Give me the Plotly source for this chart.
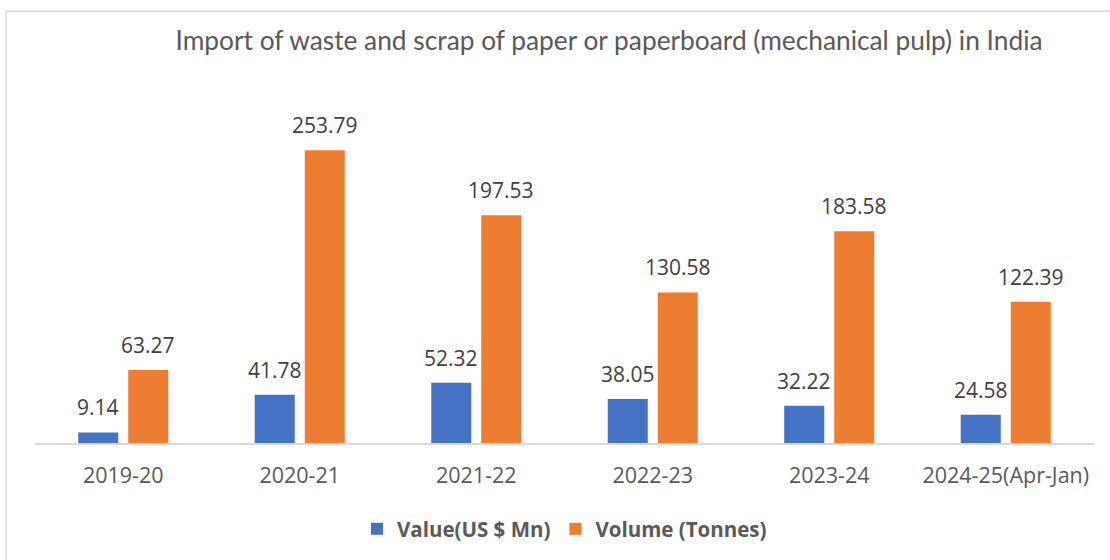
import plotly.graph_objects as go

years = ["2019-20", "2020-21", "2021-22", "2022-23", "2023-24", "2024-25(Apr-Jan)"]
value_usd_mn = [9.14, 41.78, 52.32, 38.05, 32.22, 24.58]
volume_tonnes = [63.27, 253.79, 197.53, 130.58, 183.58, 122.39]

title_text = "Import of waste and scrap of paper or paperboard (mechanical pulp) in India"
blue = "#4472C4"
orange = "#ED7D31"
label_font = dict(family="Open Sans", size=21, color="#404040")

fig = go.Figure()
fig.add_trace(go.Bar(
    x=years, y=value_usd_mn, name="Value(US $ Mn)",
    marker=dict(color=blue, line=dict(width=0)),
))
fig.add_trace(go.Bar(
    x=years, y=volume_tonnes, name="Volume (Tonnes)",
    marker=dict(color=orange, line=dict(width=0)),
))

L, R, T, B = 35, 16, 97, 116
W, H = 1110, 560
pw, ph = W - L - R, H - T - B
BARGAP = 0.433
slot = pw / len(years) * (1 - BARGAP) / 2  # pixel width of one bar slot within a group

# value labels above each bar
for series, shift in ((value_usd_mn, -slot / 2), (volume_tonnes, slot / 2)):
    for yr, v in zip(years, series):
        fig.add_annotation(x=yr, y=v, xref="x", yref="y", text=f"{v:.2f}",
                           showarrow=False, xshift=shift, yshift=25,
                           yanchor="middle", xanchor="center", font=label_font)

fig.update_layout(
    width=W, height=H,
    margin=dict(l=L, r=R, t=T, b=B),
    paper_bgcolor="white", plot_bgcolor="white",
    barmode="group", bargap=BARGAP, bargroupgap=0.2,
    title=dict(text=title_text, x=(609 - L) / pw, xref="paper", xanchor="center",
               y=1 - 41 / H, yanchor="middle",
               font=dict(family="Lato", size=26.3, color="#595959")),
    xaxis=dict(showgrid=False, showline=True, linecolor="#d9d9d9", linewidth=1.5,
               ticks="", ticklabelstandoff=12,
               tickfont=dict(family="Open Sans", size=21.5, color="#595959")),
    yaxis=dict(range=[0, 300], visible=False),
    legend=dict(orientation="h", x=0.5, xanchor="center", y=-(529 - 444) / ph, yanchor="middle",
                font=dict(family="Open Sans", size=20.5, color="#595959", weight="bold"),
                traceorder="normal"),
    showlegend=True,
)

# light chart-area frame
fig.add_shape(type="rect", xref="paper", yref="paper",
              x0=(6 - L) / pw, x1=1.2, y0=-1.0, y1=(H - B - 11) / ph,
              line=dict(color="#d9d9d9", width=1.5), fillcolor="rgba(0,0,0,0)", layer="below")

fig.write_html("out.html")
